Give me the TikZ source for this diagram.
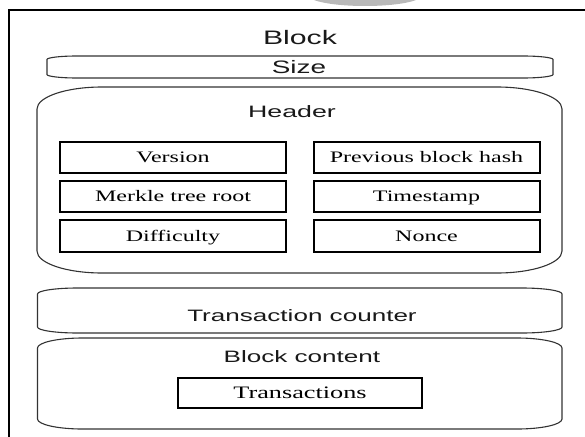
\documentclass[tikz,border=0pt]{standalone}
\usepackage{fontspec}
\setmainfont{Liberation Serif}
\newfontfamily\arialf{Liberation Sans}
\newcommand\ellbox[7][]{%
  \draw[#1] (#2+#6,-#3) -- (#4-#6,-#3)
    arc[start angle=90,end angle=0,x radius=#6,y radius=#7]
    -- (#4,-#5+#7)
    arc[start angle=0,end angle=-90,x radius=#6,y radius=#7]
    -- (#2+#6,-#5)
    arc[start angle=-90,end angle=-180,x radius=#6,y radius=#7]
    -- (#2,-#3-#7)
    arc[start angle=180,end angle=90,x radius=#6,y radius=#7] -- cycle;}
\newcommand\sx[1]{\scalebox{1.55}[1]{#1}}
\newcommand\rx[1]{\scalebox{1.5}[1]{#1}}
\tikzset{
  container/.style={draw=black!80, line width=1.1pt},
  field/.style={draw=black, line width=2pt, inner sep=0pt,
    minimum width=226pt, minimum height=31pt,
    font=\fontsize{16}{18}\selectfont, text height=10.6pt, text depth=0pt},
  sanslabel/.style={inner sep=0pt, anchor=base, text=black!90},
}
\begin{document}
\begin{tikzpicture}[x=1pt,y=1pt]
\useasboundingbox (0,0) rectangle (585,-436);
\clip (0,0) rectangle (585,-436);
\fill[white] (0,0) rectangle (585,-436);
% grey tab at top
\fill[gray!55] (365,4.3) ellipse [x radius=56, y radius=10.3];
% outer block frame (cut by the picture edges)
\draw[line width=1.8pt] (600,-10) -- (9,-10) -- (9,-450);
\node[sanslabel, font=\arialf\fontsize{19.5}{22}\selectfont] (block) at (300,-45) {\sx{Block}};
% size
\ellbox[container]{47}{56}{553}{78}{30}{3.5}
\node[sanslabel, font=\arialf\fontsize{18}{20}\selectfont] (size) at (299,-73) {\sx{Size}};
% header
\ellbox[container]{37}{87}{562}{273}{65}{22}
\node[sanslabel, font=\arialf\fontsize{16.5}{18}\selectfont] (header) at (292,-117) {\scalebox{1.62}[1]{Header}};
\node[field] (version) at (173,-157.5) {\rx{Version}};
\node[field] (prev) at (426.5,-157.5) {\rx{Previous block hash}};
\node[field] (merkle) at (173,-196.5) {\rx{Merkle tree root}};
\node[field] (time) at (426.5,-196.5) {\rx{Timestamp}};
\node[field, minimum height=32pt] (diff) at (173,-236) {\rx{Difficulty}};
\node[field, minimum height=32pt] (nonce) at (426.5,-236) {\rx{Nonce}};
% transaction counter
\ellbox[container]{37.5}{288}{562}{333}{40}{6}
\node[sanslabel, font=\arialf\fontsize{16.5}{19}\selectfont] (counter) at (302,-321) {\scalebox{1.58}[1]{Transaction counter}};
% block content
\ellbox[container]{37.5}{338}{562}{429}{45}{10}
\node[sanslabel, font=\arialf\fontsize{16.5}{19}\selectfont] (content) at (302,-362) {\scalebox{1.58}[1]{Block content}};
\node[field, minimum width=244pt, minimum height=30pt, font=\fontsize{17.5}{20}\selectfont, text height=11.6pt] (tx) at (300,-393) {\rx{Transactions}};
\end{tikzpicture}
\end{document}
